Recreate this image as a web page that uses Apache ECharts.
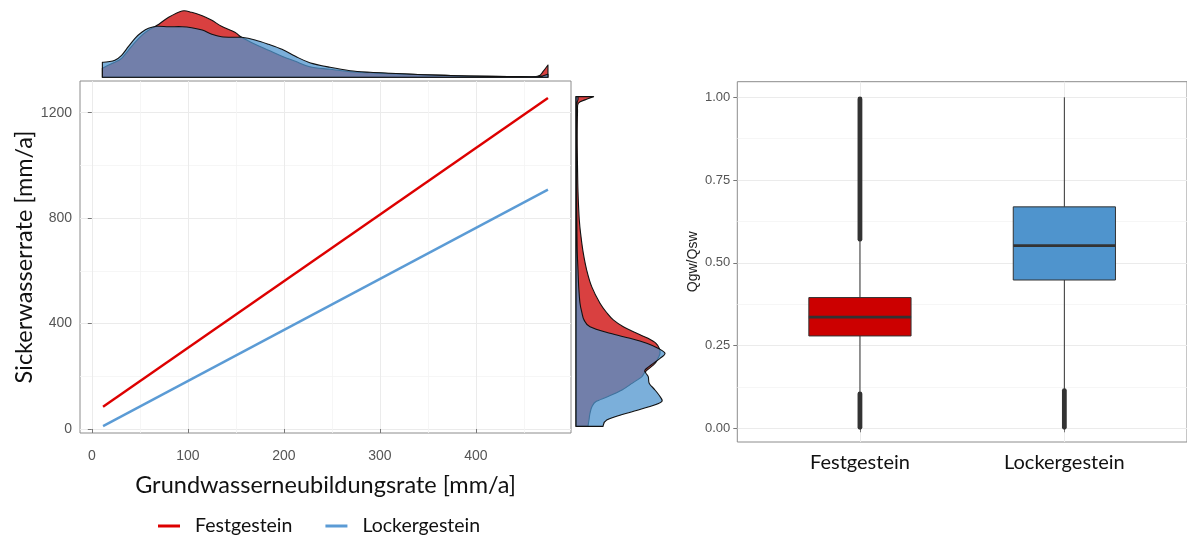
<!DOCTYPE html>
<html><head><meta charset="utf-8">
<script src="https://cdn.jsdelivr.net/npm/echarts@6/dist/echarts.min.js"></script>
<style>html,body{margin:0;padding:0;background:#fff}#c{width:1187px;height:535px}</style>
</head><body><div id="c"></div>
<script>
// ---------- DATA ----------
const groups = ['Festgestein', 'Lockergestein'];
// fitted lines: Grundwasserneubildungsrate -> Sickerwasserrate
const lineFestX = [11.7, 475];
const lineFestY = [84, 1256];
const lineLockX = [11.7, 475];
const lineLockY = [11, 908];
// top marginal density (relative) over Grundwasserneubildungsrate
const densXGrid = [11,17,24,31,38,45,52,59,68,80,94,104,115,125,135,149,156,170,184,198,212,227,248,269,290,311,345,380,415,440,464,470,475];
const densXFest = [9,12,15,19,27,35,42,47,52,60,66.3,65,61.6,57,51,45,40,33,27,21,16,10.6,8,5.6,4.5,3.7,2.6,1.6,1,0.8,1,6,12.3];
const densXLock = [15,15.6,17,22,30.6,39,45,49,51,50.6,50.6,49.6,47.3,43,40.6,40,40,37.3,33,28,21,14.6,10,6.6,5,4,2.6,1.6,1,0.7,0.6,1.5,3];
// right marginal density (relative) over Sickerwasserrate
const densYGrid = [10,34,60,85,104,123,148,173,198,211,224,249,268,287,306,325,344,363,388,414,440,477,540,603,667,730,793,900,1000,1100,1200,1236,1250,1261];
const densYFest = [12,13,14,16,20,32,46,56,65.7,68,71.3,79,82,84,83.3,80,72,60.7,47.3,37.3,31,24,15.7,10.7,7.3,5,3.3,2,1.5,1.2,1.5,2.3,10,17.6];
const densYLock = [27,30.7,50.7,74,85.7,84,79,73.3,72.3,70,69,77.3,84,89,82,70.7,54,34,14,8,6,4,2.7,2,1.3,1,0.8,0.6,0.5,0.5,0.6,1,2,2];
// boxplot Qgw/Qsw
const boxLowerWhisker = [0.105, 0.118];
const boxQ1 = [0.279, 0.448];
const boxMedian = [0.336, 0.552];
const boxQ3 = [0.395, 0.669];
const boxUpperWhisker = [0.565, 1.0];
const outlierGroup = [1, 1, 2];
const outlierFrom = [0.003, 0.571, 0.003];
const outlierTo = [0.104, 0.995, 0.114];
// tick labels
const xTicksMain = [0, 100, 200, 300, 400];
const xMinorMain = [50, 150, 250, 350, 450];
const yTicksMain = [0, 400, 800, 1200];
const yMinorMain = [200, 600, 1000];
const yTicksBox = [0, 0.25, 0.5, 0.75, 1.0];
const yMinorBox = [0.125, 0.375, 0.625, 0.875];

// ---------- STYLE ----------
const RED = '#CC0000', BLUE = '#4F94CD';
const RED_LINE = '#DD0000', BLUE_LINE = '#5B9BD5';
const GRID_C = '#EBEBEB', MINOR_C = '#F4F4F4', BORDER_C = '#8C8C8C';
const TITLE_FONT = 'Lato';
const TICK_FONT = 'Liberation Sans';

function smoothPath(pts, b0, b1) {
  let d = 'M' + b0[0] + ',' + b0[1] + ' L' + pts[0][0] + ',' + pts[0][1];
  for (let i = 0; i < pts.length - 1; i++) {
    const p0 = pts[i - 1] || pts[i], p1 = pts[i], p2 = pts[i + 1], p3 = pts[i + 2] || pts[i + 1];
    const t = 1 / 6;
    const c1 = [p1[0] + (p2[0] - p0[0]) * t, p1[1] + (p2[1] - p0[1]) * t];
    const c2 = [p2[0] - (p3[0] - p1[0]) * t, p2[1] - (p3[1] - p1[1]) * t];
    d += ' C' + c1[0] + ',' + c1[1] + ' ' + c2[0] + ',' + c2[1] + ' ' + p2[0] + ',' + p2[1];
  }
  d += ' L' + b1[0] + ',' + b1[1] + ' Z';
  return d;
}
function densitySeries(name, pos, val, horizontal, color, xi, yi) {
  return {
    type: 'custom', name: name, xAxisIndex: xi, yAxisIndex: yi, silent: true,
    data: [[0, 0]],
    renderItem: function (params, api) {
      const pts = pos.map((p, i) => horizontal ? api.coord([val[i], p]) : api.coord([p, val[i]]));
      const b0 = horizontal ? api.coord([0, pos[0]]) : api.coord([pos[0], 0]);
      const b1 = horizontal ? api.coord([0, pos[pos.length - 1]]) : api.coord([pos[pos.length - 1], 0]);
      return {
        type: 'path',
        shape: { pathData: smoothPath(pts, b0, b1) },
        style: { fill: color, opacity: 1, stroke: '#111', lineWidth: 1.1, lineJoin: 'round' }
      };
    }
  };
}

const boxData = groups.map((g, i) => [i + 1, boxLowerWhisker[i], boxQ1[i], boxMedian[i], boxQ3[i], boxUpperWhisker[i]]);
const outData = outlierGroup.map((g, i) => [g, outlierFrom[i], outlierTo[i]]);
const boxColors = [RED, BLUE];

const chart = echarts.init(document.getElementById('c'));
chart.setOption({
  animation: false,
  backgroundColor: '#fff',
  grid: [
    { left: 80, top: 81, width: 491, height: 352, show: true, borderColor: BORDER_C, borderWidth: 1 },
    { left: 80, top: 7, width: 491, height: 70.3 },
    { left: 576, top: 81, width: 100, height: 352 },
    { left: 737.3, top: 81.7, width: 453.7, height: 360.3, show: true, borderColor: BORDER_C, borderWidth: 1 }
  ],
  legend: {
    data: groups, left: 153, top: 511, itemGap: 33, itemWidth: 22, itemHeight: 3, icon: 'rect',
    textStyle: { fontSize: 19.5, fontFamily: TITLE_FONT, color: '#111', padding: [0, 0, 0, 10] }
  },
  xAxis: [
    { gridIndex: 0, type: 'value', min: -12.3, max: 499,
      axisLine: { show: false },
      axisTick: { show: true, length: 4, customValues: xTicksMain, lineStyle: { color: '#777' } },
      axisLabel: { customValues: xTicksMain, formatter: v => String(v), color: '#555', fontSize: 14, fontFamily: TICK_FONT, margin: 16 },
      splitLine: { show: true, lineStyle: { color: GRID_C, width: 1 } },
      name: 'Grundwasserneubildungsrate [mm/a]', nameLocation: 'middle', nameGap: 40,
      nameTextStyle: { fontSize: 23.5, fontFamily: TITLE_FONT, color: '#111' } },
    { gridIndex: 0, type: 'value', min: -12.3, max: 499, position: 'top',
      axisLine: { show: false }, axisTick: { show: false, customValues: xMinorMain }, axisLabel: { show: false },
      splitLine: { show: true, lineStyle: { color: MINOR_C, width: 0.8 } } },
    { gridIndex: 1, type: 'value', min: -12.3, max: 499, show: false },
    { gridIndex: 2, type: 'value', min: 0, max: 100, show: false },
    { gridIndex: 3, type: 'value', min: 0.4, max: 2.6,
      axisLine: { show: false },
      axisTick: { show: true, length: 4, customValues: [1, 2], lineStyle: { color: '#777' } },
      axisLabel: { customValues: [1, 2], formatter: v => groups[Math.round(v) - 1], color: '#111', fontSize: 20, fontFamily: TITLE_FONT, margin: 11 },
      splitLine: { show: true, lineStyle: { color: GRID_C, width: 1 } } }
  ],
  yAxis: [
    { gridIndex: 0, type: 'value', min: -15.2, max: 1320.3,
      axisLine: { show: false },
      axisTick: { show: true, length: 4, customValues: yTicksMain, lineStyle: { color: '#777' } },
      axisLabel: { customValues: yTicksMain, formatter: v => String(v), color: '#555', fontSize: 14, fontFamily: TICK_FONT, margin: 8 },
      splitLine: { show: true, lineStyle: { color: GRID_C, width: 1 } },
      name: 'Sickerwasserrate [mm/a]', nameLocation: 'middle', nameGap: 44,
      nameTextStyle: { fontSize: 23.5, fontFamily: TITLE_FONT, color: '#111' } },
    { gridIndex: 0, type: 'value', min: -15.2, max: 1320.3, position: 'right',
      axisLine: { show: false }, axisTick: { show: false, customValues: yMinorMain }, axisLabel: { show: false },
      splitLine: { show: true, lineStyle: { color: MINOR_C, width: 0.8 } } },
    { gridIndex: 1, type: 'value', min: 0, max: 70.3, show: false },
    { gridIndex: 2, type: 'value', min: -15.2, max: 1320.3, show: false },
    { gridIndex: 3, type: 'value', min: -0.0414, max: 1.0471,
      axisLine: { show: false },
      axisTick: { show: true, length: 4, customValues: yTicksBox, lineStyle: { color: '#777' } },
      axisLabel: { customValues: yTicksBox, formatter: v => v.toFixed(2), color: '#555', fontSize: 13, fontFamily: TICK_FONT, margin: 7 },
      splitLine: { show: true, lineStyle: { color: GRID_C, width: 1 } },
      name: 'Qgw/Qsw', nameLocation: 'middle', nameGap: 37,
      nameTextStyle: { fontSize: 14, fontFamily: TICK_FONT, color: '#222' } },
    { gridIndex: 3, type: 'value', min: -0.0414, max: 1.0471, position: 'right',
      axisLine: { show: false }, axisTick: { show: false, customValues: yMinorBox }, axisLabel: { show: false },
      splitLine: { show: true, lineStyle: { color: MINOR_C, width: 0.8 } } }
  ],
  series: [
    { type: 'line', name: 'Festgestein', xAxisIndex: 0, yAxisIndex: 0, symbol: 'none',
      data: lineFestX.map((x, i) => [x, lineFestY[i]]),
      itemStyle: { color: RED_LINE }, lineStyle: { color: RED_LINE, width: 2.4 } },
    { type: 'line', name: 'Lockergestein', xAxisIndex: 0, yAxisIndex: 0, symbol: 'none',
      data: lineLockX.map((x, i) => [x, lineLockY[i]]),
      itemStyle: { color: BLUE_LINE }, lineStyle: { color: BLUE_LINE, width: 2.4 } },
    densitySeries('dx-fest', densXGrid, densXFest, false, 'rgba(204,0,0,0.75)', 2, 2),
    densitySeries('dx-lock', densXGrid, densXLock, false, 'rgba(79,148,205,0.75)', 2, 2),
    densitySeries('dy-fest', densYGrid, densYFest, true, 'rgba(204,0,0,0.75)', 3, 3),
    densitySeries('dy-lock', densYGrid, densYLock, true, 'rgba(79,148,205,0.75)', 3, 3),
    { type: 'custom', name: 'outliers', xAxisIndex: 4, yAxisIndex: 4, silent: true, data: outData,
      renderItem: function (params, api) {
        const a = api.coord([api.value(0), api.value(1)]);
        const b = api.coord([api.value(0), api.value(2)]);
        return { type: 'line', shape: { x1: a[0], y1: a[1], x2: b[0], y2: b[1] },
          style: { stroke: '#333', lineWidth: 4.8, lineCap: 'round' } };
      } },
    { type: 'custom', name: 'box', xAxisIndex: 4, yAxisIndex: 4, silent: true, data: boxData,
      renderItem: function (params, api) {
        const c = api.value(0);
        const pLW = api.coord([c, api.value(1)]), pQ1 = api.coord([c, api.value(2)]);
        const pMd = api.coord([c, api.value(3)]), pQ3 = api.coord([c, api.value(4)]);
        const pHW = api.coord([c, api.value(5)]);
        const hw = api.size([0.5, 0])[0] / 2;
        const col = boxColors[params.dataIndex];
        return { type: 'group', children: [
          { type: 'line', shape: { x1: pLW[0], y1: pLW[1], x2: pQ1[0], y2: pQ1[1] }, style: { stroke: '#333', lineWidth: 1 } },
          { type: 'line', shape: { x1: pQ3[0], y1: pQ3[1], x2: pHW[0], y2: pHW[1] }, style: { stroke: '#333', lineWidth: 1 } },
          { type: 'rect', shape: { x: pQ3[0] - hw, y: pQ3[1], width: 2 * hw, height: pQ1[1] - pQ3[1] }, style: { fill: col, stroke: '#333', lineWidth: 1 } },
          { type: 'line', shape: { x1: pMd[0] - hw, y1: pMd[1], x2: pMd[0] + hw, y2: pMd[1] }, style: { stroke: '#333', lineWidth: 2.6 } }
        ] };
      } }
  ]
});
</script></body></html>
